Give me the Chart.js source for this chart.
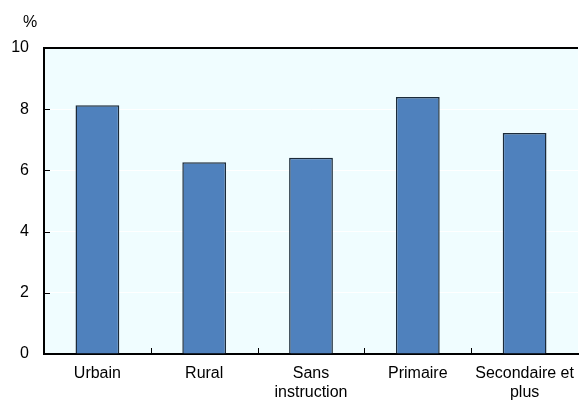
<!DOCTYPE html>
<html>
<head>
<meta charset="utf-8">
<script src="https://cdn.jsdelivr.net/npm/chart.js@4"></script>
<style>
  html, body { margin: 0; padding: 0; background: #fff; }
  #wrap { width: 579px; height: 403px; }
</style>
</head>
<body>
<div id="wrap"><canvas id="graf"></canvas></div>
<script>
const categorias = [['Urbain'], ['Rural'], ['Sans', 'instruction'], ['Primaire'], ['Secondaire et', 'plus']];
const valores = [8.13, 6.27, 6.41, 8.4, 7.22];
const ticksY = [0, 2, 4, 6, 8, 10];

const fuente = { family: '"Liberation Sans", Arial, sans-serif', size: 16 };

// fondo, marco superior, "%" y marcas interiores de los ejes
const marco = {
  id: 'marco',
  beforeDraw(chart) {
    const { ctx, chartArea: a } = chart;
    ctx.save();
    ctx.fillStyle = '#f0fdff';
    ctx.fillRect(a.left, a.top, a.right - a.left, a.bottom - a.top);
    ctx.restore();
  },
  afterDraw(chart) {
    const { ctx, chartArea: a } = chart;
    const y = chart.scales.y;
    ctx.save();
    ctx.strokeStyle = '#000';
    ctx.lineWidth = 2;
    ctx.beginPath();
    ctx.moveTo(a.left - 1, a.top);
    ctx.lineTo(a.right, a.top);
    ctx.stroke();
    ctx.lineWidth = 1;
    const paso = (a.right - a.left) / categorias.length;
    for (let i = 1; i < categorias.length; i++) {
      const px = Math.round(a.left + paso * i) + 0.5;
      ctx.beginPath();
      ctx.moveTo(px, a.bottom);
      ctx.lineTo(px, a.bottom - 6);
      ctx.stroke();
    }
    ticksY.slice(1, -1).forEach(v => {
      const py = Math.round(y.getPixelForValue(v)) + 0.5;
      ctx.beginPath();
      ctx.moveTo(a.left, py);
      ctx.lineTo(a.left + 6, py);
      ctx.stroke();
    });
    ctx.fillStyle = '#000';
    ctx.font = '16px "Liberation Sans", Arial, sans-serif';
    ctx.textAlign = 'center';
    ctx.textBaseline = 'middle';
    ctx.fillText('%', 30, 23);
    ctx.restore();
  }
};

new Chart(document.getElementById('graf'), {
  type: 'bar',
  data: {
    labels: categorias,
    datasets: [{
      data: valores,
      backgroundColor: '#4f81bd',
      borderColor: '#1c2b3a',
      borderWidth: 1.5,
      barPercentage: 0.41,
      categoryPercentage: 1
    }]
  },
  options: {
    responsive: true,
    maintainAspectRatio: false,
    animation: false,
    layout: { padding: { top: 48, right: 1, bottom: 0, left: 0 } },
    plugins: { legend: { display: false }, tooltip: { enabled: false } },
    scales: {
      x: {
        grid: { display: false },
        border: { color: '#000', width: 2 },
        ticks: { color: '#000', font: { ...fuente, lineHeight: 1.2 }, padding: 2, maxRotation: 0 },
        afterFit(s) { s.height = 49; }
      },
      y: {
        min: 0,
        max: 10,
        afterBuildTicks(s) { s.ticks = ticksY.map(v => ({ value: v })); },
        grid: { color: '#ffffff', lineWidth: 1, drawTicks: false },
        border: { color: '#000', width: 2 },
        ticks: { color: '#000', font: fuente, padding: 15 },
        afterFit(s) { s.width = 44; }
      }
    }
  },
  plugins: [marco]
});
</script>
</body>
</html>
